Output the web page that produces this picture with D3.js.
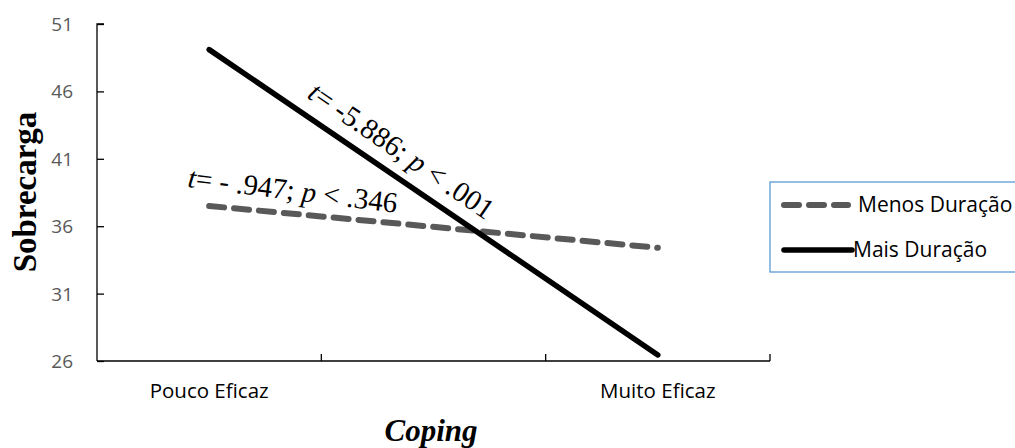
<!DOCTYPE html>
<html>
<head>
<meta charset="utf-8">
<script src="https://cdn.jsdelivr.net/npm/d3@7"></script>
<style>
body { margin: 0; background: white; }
</style>
</head>
<body>
<script>
// data
var categories = ["Pouco Eficaz", "", "Muito Eficaz"];
var seriesNames = ["Menos Duração", "Mais Duração"];
var menosValues = [37.5, null, 34.4];
var maisValues = [49.1, null, 26.45];
var yTicks = [26, 31, 36, 41, 46, 51];
var notes = ["t= -5.886; p < .001", "t= - .947; p < .346"];

var width = 1015, height = 448;
var axisColour = "black", labelColour = "#595959";

var svg = d3.select("body").append("svg")
	.attr("width", width)
	.attr("height", height);

/* scales */
var x = d3.scaleBand().domain(categories).range([97, 770]).padding(0);
var y = d3.scaleLinear().domain([26, 51]).range([361, 24]);

/* y axis */
var yAxis = svg.append("g").attr("transform", "translate(97,0)")
	.call(d3.axisRight(y).tickValues(yTicks).tickSize(7).tickFormat(""));
yAxis.select(".domain").attr("stroke", axisColour).attr("stroke-width", 1.3).attr("d", "M0," + y(26) + "V" + y(51) + "h7");
yAxis.selectAll(".tick line").attr("stroke", axisColour).attr("stroke-width", 1.3);

svg.append("g").selectAll("text").data(yTicks).enter().append("text")
	.attr("x", 73).attr("y", function(d) { return y(d) + 7; })
	.attr("text-anchor", "end")
	.style("font-family", "Open Sans, sans-serif").style("font-size", "19px")
	.attr("fill", labelColour)
	.text(function(d) { return d; });

/* x axis, ticks sit on the band edges like excel */
var edges = categories.map(function(c) { return x(c) + x.step(); });
svg.append("line")
	.attr("x1", x.range()[0]).attr("x2", x.range()[1])
	.attr("y1", y(26)).attr("y2", y(26))
	.attr("stroke", axisColour).attr("stroke-width", 1.3);
svg.append("g").selectAll("line").data(edges).enter().append("line")
	.attr("x1", function(d) { return d; }).attr("x2", function(d) { return d; })
	.attr("y1", y(26)).attr("y2", y(26) - 7)
	.attr("stroke", axisColour).attr("stroke-width", 1.3);

svg.append("g").selectAll("text").data(categories).enter().append("text")
	.attr("x", function(d) { return x(d) + x.bandwidth() / 2; })
	.attr("y", 398)
	.attr("text-anchor", "middle")
	.style("font-family", "Open Sans, sans-serif").style("font-size", "20.5px")
	.attr("fill", "black")
	.text(function(d) { return d; });

/* axis titles */
svg.append("text")
	.attr("transform", "translate(36,192) rotate(-90)")
	.attr("text-anchor", "middle")
	.style("font-family", "Liberation Serif, serif").style("font-size", "33px").style("font-weight", "bold")
	.text("Sobrecarga");

svg.append("text")
	.attr("x", 431).attr("y", 441)
	.attr("text-anchor", "middle")
	.style("font-family", "Liberation Serif, serif").style("font-size", "31px")
	.style("font-weight", "bold").style("font-style", "italic")
	.text("Coping");

/* lines, skipping the empty middle category */
var line = d3.line()
	.defined(function(d) { return d.v !== null; })
	.x(function(d) { return x(d.c) + x.bandwidth() / 2; })
	.y(function(d) { return y(d.v); });

function pts(vals) {
	return categories.map(function(c, i) { return {c: c, v: vals[i]}; })
		.filter(function(d) { return d.v !== null; });
}

svg.append("path").datum(pts(menosValues))
	.attr("d", line).attr("fill", "none")
	.attr("stroke", "#595959").attr("stroke-width", 6)
	.attr("stroke-dasharray", "15,10").attr("stroke-linecap", "round");

svg.append("path").datum(pts(maisValues))
	.attr("d", line).attr("fill", "none")
	.attr("stroke", "black").attr("stroke-width", 5.5)
	.attr("stroke-linecap", "round");

/* annotations */
function note(txt, tx, ty, ang) {
	var parts = txt.split(/(t|p)(?=[= ])/);
	var t = svg.append("text")
		.attr("transform", "translate(" + tx + "," + ty + ") rotate(" + ang + ")")
		.style("font-family", "Liberation Serif, serif").style("font-size", "29px");
	parts.forEach(function(s) {
		if (s === "") return;
		t.append("tspan").style("font-style", (s === "t" || s === "p") ? "italic" : "normal").text(s);
	});
}
note(notes[0], 306, 97, 34.5);
note(notes[1], 187, 187, 7);

/* legend */
var legend = svg.append("g");
legend.append("rect")
	.attr("x", 770).attr("y", 182).attr("width", 270).attr("height", 90)
	.attr("fill", "white").attr("stroke", "#5B9BD5").attr("stroke-width", 1.3);

var legendY = [205, 250];
legend.append("line")
	.attr("x1", 784).attr("x2", 848).attr("y1", legendY[0]).attr("y2", legendY[0])
	.attr("stroke", "#595959").attr("stroke-width", 6)
	.attr("stroke-dasharray", "15,10").attr("stroke-linecap", "round");
legend.append("line")
	.attr("x1", 784).attr("x2", 852).attr("y1", legendY[1]).attr("y2", legendY[1])
	.attr("stroke", "black").attr("stroke-width", 5.5).attr("stroke-linecap", "round");

legend.selectAll("text.lab").data(seriesNames).enter().append("text")
	.attr("class", "lab")
	.attr("x", function(d, i) { return i === 0 ? 858 : 853; })
	.attr("y", function(d, i) { return legendY[i] + 7; })
	.style("font-family", "Open Sans, sans-serif").style("font-size", "21px")
	.text(function(d) { return d; });
</script>
</body>
</html>
